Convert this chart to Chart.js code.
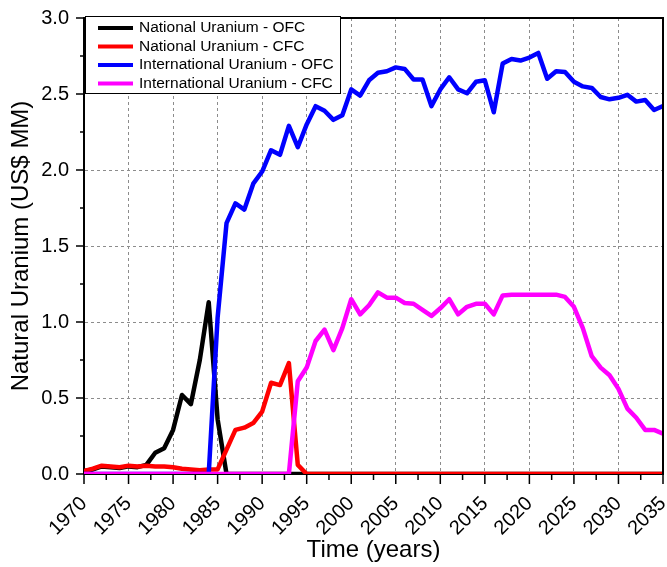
<!DOCTYPE html>
<html>
<head>
<meta charset="utf-8">
<script src="https://cdn.jsdelivr.net/npm/chart.js@4.4.1/dist/chart.umd.min.js"></script>
<style>
  html, body { margin:0; padding:0; background:#fff; }
  #wrap { width:667px; height:567px; position:relative; }
</style>
</head>
<body>
<div id="wrap"><canvas id="uraniumChart"></canvas></div>
<script>
// years on the x axis
var years = [1970,1971,1972,1973,1974,1975,1976,1977,1978,1979,
             1980,1981,1982,1983,1984,1985,1986,1987,1988,1989,
             1990,1991,1992,1993,1994,1995,1996,1997,1998,1999,
             2000,2001,2002,2003,2004,2005,2006,2007,2008,2009,
             2010,2011,2012,2013,2014,2015,2016,2017,2018,2019,
             2020,2021,2022,2023,2024,2025,2026,2027,2028,2029,
             2030,2031,2032,2033,2034,2035];

var seriesNames = ['National Uranium - OFC', 'National Uranium - CFC',
                   'International Uranium - OFC', 'International Uranium - CFC'];

// US$ MM per year
var nationalOFC = [0.02,0.03,0.05,0.045,0.04,0.05,0.045,0.06,0.14,0.17,
                   0.29,0.52,0.46,0.75,1.13,0.36,0,0,0,0,
                   0,0,0,0,0,0,0,0,0,0,
                   0,0,0,0,0,0,0,0,0,0,
                   0,0,0,0,0,0,0,0,0,0,
                   0,0,0,0,0,0,0,0,0,0,
                   0,0,0,0,0,0];
var nationalCFC = [0.02,0.035,0.055,0.05,0.045,0.055,0.05,0.055,0.05,0.05,
                   0.045,0.035,0.03,0.025,0.03,0.03,0.16,0.29,0.305,0.335,
                   0.41,0.60,0.585,0.73,0.06,0,0,0,0,0,
                   0,0,0,0,0,0,0,0,0,0,
                   0,0,0,0,0,0,0,0,0,0,
                   0,0,0,0,0,0,0,0,0,0,
                   0,0,0,0,0,0];
var internationalOFC = [0,0,0,0,0,0,0,0,0,0,
                        0,0,0,0,0,1.03,1.65,1.78,1.74,1.91,
                        1.99,2.13,2.10,2.29,2.15,2.30,2.42,2.39,2.33,2.36,
                        2.53,2.49,2.59,2.64,2.65,2.675,2.665,2.595,2.595,2.42,
                        2.53,2.61,2.53,2.505,2.58,2.59,2.38,2.70,2.73,2.72,
                        2.74,2.77,2.60,2.65,2.645,2.58,2.55,2.54,2.48,2.465,
                        2.475,2.495,2.45,2.46,2.395,2.42];
var internationalCFC = [0,0,0,0,0,0,0,0,0,0,
                        0,0,0,0,0,0,0,0,0,0,
                        0,0,0,0,0.61,0.70,0.875,0.95,0.815,0.96,
                        1.15,1.05,1.11,1.195,1.16,1.16,1.125,1.12,1.08,1.04,
                        1.09,1.15,1.05,1.10,1.12,1.12,1.05,1.175,1.18,1.18,
                        1.18,1.18,1.18,1.18,1.165,1.10,0.96,0.775,0.70,0.65,
                        0.56,0.43,0.37,0.29,0.29,0.265];

var seriesColors = ['#000000', '#ff0000', '#0000ff', '#ff00ff'];
var allSeries = [nationalOFC, nationalCFC, internationalOFC, internationalCFC];

var fontFamily = "'Liberation Sans', Arial, sans-serif";

function toPoints(vals) {
    return vals.map(function (v, i) { return { x: years[i], y: v }; });
}

// frame, minor/major tick marks and the boxed legend
var decorPlugin = {
    id: 'decor',
    afterDraw: function (chart) {
        var ctx = chart.ctx, a = chart.chartArea;
        var xs = chart.scales.x, ys = chart.scales.y;
        ctx.save();
        ctx.strokeStyle = '#000';
        ctx.lineWidth = 2;
        ctx.beginPath();
        ctx.moveTo(a.left, a.top); ctx.lineTo(a.right, a.top); ctx.lineTo(a.right, a.bottom);
        ctx.stroke();

        ctx.lineWidth = 1.5;
        ctx.beginPath();
        for (var yr = 1970; yr <= 2035; yr += 2.5) {
            var px = xs.getPixelForValue(yr);
            var len = (yr % 5 === 0) ? 10 : 6;
            ctx.moveTo(px, a.bottom); ctx.lineTo(px, a.bottom + len);
        }
        for (var v = 0; v <= 3.0001; v += 0.25) {
            var py = ys.getPixelForValue(v);
            var l2 = (Math.abs(v * 2 - Math.round(v * 2)) < 1e-6) ? 8 : 4;
            ctx.moveTo(a.left, py); ctx.lineTo(a.left - l2, py);
        }
        ctx.stroke();

        // legend box
        var bx = 85, by = 16, bw = 255, bh = 77;
        ctx.fillStyle = '#fff';
        ctx.fillRect(bx, by, bw, bh);
        ctx.lineWidth = 1;
        ctx.strokeStyle = '#000';
        ctx.strokeRect(bx + 0.5, by + 0.5, bw, bh);
        ctx.font = '15.5px ' + fontFamily;
        ctx.textBaseline = 'middle';
        ctx.textAlign = 'left';
        chart.data.datasets.forEach(function (ds, i) {
            var ry = 28 + i * 18.5;
            ctx.strokeStyle = ds.borderColor;
            ctx.lineWidth = 4;
            ctx.beginPath(); ctx.moveTo(98, ry); ctx.lineTo(133, ry); ctx.stroke();
            ctx.fillStyle = '#000';
            ctx.fillText(ds.label, 139, ry);
        });
        ctx.restore();
    }
};

new Chart(document.getElementById('uraniumChart'), {
    type: 'line',
    data: {
        datasets: allSeries.map(function (vals, i) {
            return {
                label: seriesNames[i],
                data: toPoints(vals),
                borderColor: seriesColors[i],
                backgroundColor: seriesColors[i],
                borderWidth: 4.5,
                pointRadius: 0,
                tension: 0,
                borderJoinStyle: 'round',
                order: 3 - i
            };
        })
    },
    options: {
        responsive: true, maintainAspectRatio: false, animation: false,
        layout: { padding: { top: 18, right: 4, left: 0, bottom: 0 } },
        plugins: { legend: { display: false }, tooltip: { enabled: false } },
        scales: {
            x: {
                type: 'linear', min: 1970, max: 2035,
                afterFit: function (s) { s.height = 93; s.paddingRight = 0; s.paddingLeft = 0; },
                ticks: { stepSize: 5, minRotation: 45, maxRotation: 45, padding: 18,
                         color: '#000', font: { family: fontFamily, size: 20 },
                         callback: function (v) { return String(v); } },
                grid: { drawTicks: false, color: '#8c8c8c', lineWidth: 1 },
                border: { display: true, color: '#000', width: 2, dash: [3, 3] },
                title: { display: true, text: 'Time (years)', color: '#000',
                         font: { family: fontFamily, size: 24 }, padding: { top: 0, bottom: 2 } }
            },
            y: {
                min: 0, max: 3,
                afterFit: function (s) { s.width = 84; s.paddingTop = 0; s.paddingBottom = 0; },
                ticks: { stepSize: 0.5, padding: 15, color: '#000',
                         font: { family: fontFamily, size: 20 },
                         callback: function (v) { return v.toFixed(1); } },
                grid: { drawTicks: false, color: '#8c8c8c', lineWidth: 1 },
                border: { display: true, color: '#000', width: 2, dash: [3, 3] },
                title: { display: true, text: 'Natural Uranium (US$ MM)', color: '#000',
                         font: { family: fontFamily, size: 24 }, padding: { top: 7, bottom: 0 } }
            }
        }
    },
    plugins: [decorPlugin]
});
</script>
</body>
</html>
